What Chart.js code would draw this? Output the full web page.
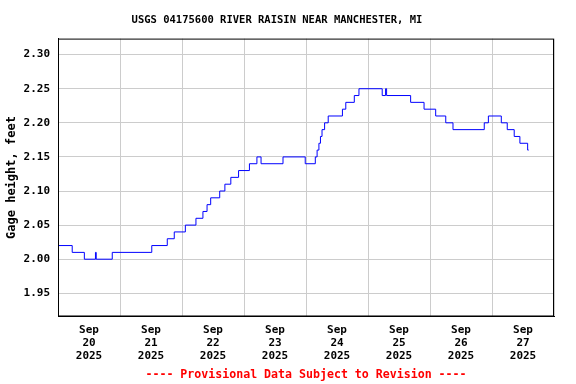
<!DOCTYPE html>
<html lang="en">
<head>
    <meta charset="UTF-8">
    <title>USGS 04175600 River Raisin</title>
    <script src="https://cdn.jsdelivr.net/npm/chart.js"></script>
    <style>
        body { margin: 0; background: #fff; }
        #wrap { width: 576px; height: 384px; }
    </style>
</head>
<body>
    <div id="wrap"><canvas id="gageChart" width="576" height="384"></canvas></div>
    <script>
        // hours since Sep 20 2025 00:00 where the gage height changes to a new level
        const stageHours = [0, 5.5, 10.2, 14.5, 14.8, 21.0, 36.3, 42.3, 45.0, 49.3,
            53.4, 56.1, 57.7, 59.1, 62.6, 64.6, 66.9, 69.9, 74.1, 77.0,
            78.6, 87.1, 95.7, 99.6, 100.3, 101.0, 101.6, 102.2, 103.2, 104.6,
            110.1, 111.4, 114.7, 116.5, 125.5, 126.8, 127.2, 136.5, 141.7, 146.2,
            150.1, 152.9, 165.0, 166.6, 171.6, 173.9, 176.6, 178.8, 181.8, 182.2];
        const stageValues = [2.02, 2.01, 2.00, 2.01, 2.00, 2.01, 2.02, 2.03, 2.04, 2.05,
            2.06, 2.07, 2.08, 2.09, 2.10, 2.11, 2.12, 2.13, 2.14, 2.15,
            2.14, 2.15, 2.14, 2.15, 2.16, 2.17, 2.18, 2.19, 2.20, 2.21,
            2.22, 2.23, 2.24, 2.25, 2.24, 2.25, 2.24, 2.23, 2.22, 2.21,
            2.20, 2.19, 2.20, 2.21, 2.20, 2.19, 2.18, 2.17, 2.16, 2.16];
        const dayLabels = ['20', '21', '22', '23', '24', '25', '26', '27'];
        const yTicks = [1.95, 2.00, 2.05, 2.10, 2.15, 2.20, 2.25, 2.30];

        const mono = "'DejaVu Sans Mono', 'Liberation Mono', monospace";
        const points = stageHours.map((h, i) => ({ x: h, y: stageValues[i] }));

        // black frame round the plot area
        const frame = {
            id: 'frame',
            afterDraw(chart) {
                const a = chart.chartArea;
                const c = chart.ctx;
                c.save();
                c.strokeStyle = '#000';
                c.lineWidth = 1;
                c.strokeRect(a.left + 0.5, a.top + 0.5, a.right - a.left - 1, a.bottom - a.top - 1);
                c.restore();
            }
        };

        const ctx = document.getElementById('gageChart').getContext('2d');
        const gageChart = new Chart(ctx, {
            type: 'line',
            data: {
                datasets: [{
                    data: points,
                    borderColor: '#0000ff',
                    borderWidth: 1,
                    pointRadius: 0,
                    stepped: true,
                    fill: false
                }]
            },
            options: {
                responsive: false,
                animation: false,
                layout: { padding: { right: 22 } },
                plugins: {
                    legend: { display: false },
                    tooltip: { enabled: false },
                    title: {
                        display: true,
                        text: 'USGS 04175600 RIVER RAISIN NEAR MANCHESTER, MI',
                        color: '#000',
                        font: { family: mono, size: 10.5, weight: 'bold' },
                        padding: { top: 14, bottom: 12 }
                    },
                    subtitle: {
                        display: true,
                        position: 'bottom',
                        fullSize: false,
                        text: '---- Provisional Data Subject to Revision ----',
                        color: '#ff0000',
                        font: { family: mono, size: 11.6, weight: 'bold' },
                        padding: { top: 0, bottom: 2 }
                    }
                },
                scales: {
                    x: {
                        type: 'linear',
                        min: 0,
                        max: 192,
                        afterBuildTicks: scale => {
                            scale.ticks = [];
                            for (let h = 0; h <= 192; h += 12) scale.ticks.push({ value: h });
                        },
                        afterFit: scale => { scale.height = 51.6; },
                        grid: {
                            drawTicks: false,
                            color: c => (c.tick && c.tick.value % 24 === 0) ? '#cccccc' : 'rgba(0,0,0,0)'
                        },
                        border: { color: '#000' },
                        ticks: {
                            autoSkip: false,
                            maxRotation: 0,
                            padding: 7,
                            color: '#000',
                            font: { family: mono, size: 11, weight: 'bold', lineHeight: 1.18 },
                            callback: v => {
                                if (v % 24 !== 12) return '';
                                return ['Sep', dayLabels[(v - 12) / 24], '2025'];
                            }
                        }
                    },
                    y: {
                        min: 1.916,
                        max: 2.3235,
                        afterBuildTicks: scale => {
                            scale.ticks = yTicks.map(v => ({ value: v }));
                        },
                        afterFit: scale => { scale.width = 58; },
                        grid: { drawTicks: false, color: '#cccccc' },
                        border: { color: '#000' },
                        title: {
                            display: true,
                            text: 'Gage height, feet',
                            color: '#000',
                            font: { family: mono, size: 12, weight: 'bold' },
                            padding: { top: 5, bottom: 0 }
                        },
                        ticks: {
                            padding: 8,
                            color: '#000',
                            font: { family: mono, size: 11, weight: 'bold' },
                            callback: v => v.toFixed(2)
                        }
                    }
                }
            },
            plugins: [frame]
        });
    </script>
</body>
</html>
